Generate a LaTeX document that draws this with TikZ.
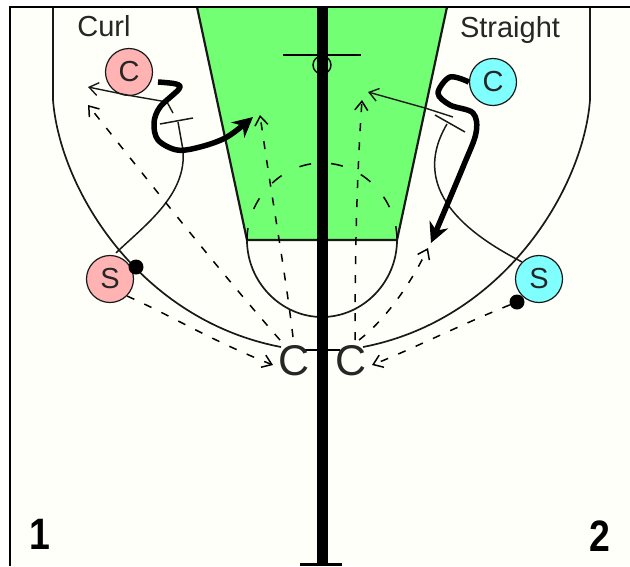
\documentclass[tikz,border=0pt]{standalone}
\usepackage{fontspec}
\setmainfont{Liberation Sans}
\usetikzlibrary{arrows.meta}
\definecolor{LanePaint}{HTML}{73FF73}
\definecolor{PinkPlayer}{HTML}{FFB3B3}
\definecolor{CyanPlayer}{HTML}{80FFFF}
\definecolor{CourtFloor}{HTML}{FFFFFA}

\begin{document}
\begin{tikzpicture}[
  x=1pt, y=-1pt,
  courtline/.style={line width=1.7pt, black!90},
  player/.style={circle, draw=black!90, line width=1.2pt, minimum size=47pt,
                 inner sep=0pt, font=\fontsize{29}{29}\selectfont, text=black!85},
  coach/.style={inner sep=0pt, font=\fontsize{43}{43}\selectfont, text=black!85},
  lbl/.style={inner sep=0pt, font=\fontsize{29}{29}\selectfont, text=black!85},
  num/.style={inner sep=0pt, xscale=0.85, font=\fontsize{44}{44}\selectfont\bfseries},
  ball/.style={circle, fill=black, minimum size=15pt, inner sep=0pt},
  cut/.style={-{Stealth[length=20pt,width=20pt]}, line width=5.5pt, line join=round},
  pass/.style={-{Straight Barb[length=9pt,width=13pt]}, line width=1.4pt, black!90},
  move/.style={-{Straight Barb[length=9pt,width=13pt]}, line width=1.5pt, dash pattern=on 8pt off 11pt},
  dribble/.style={line width=1.5pt, black!90}
]
\useasboundingbox (0,0) rectangle (630,566);
\fill[white] (0,0) rectangle (630,566);
\fill[CourtFloor] (10,7) rectangle (630,566);

% paint and key
\fill[LanePaint] (197,7) -- (247,240) -- (397,240) -- (447,7) -- cycle;
\draw[courtline, line width=2.2pt] (197,7) -- (247,240) -- (397,240) -- (447,7);
\draw[courtline] (247,240) .. controls (247,282) and (281,317) .. (322,317)
      .. controls (363,317) and (397,282) .. (397,240);
\draw[line width=1.5pt, dash pattern=on 12pt off 20pt] (247,240) .. controls (247,199) and (281,163) .. (322,163)
      .. controls (363,163) and (397,199) .. (397,240);

% three point line
\draw[courtline] (53,7) -- (53,100) .. controls (60,190) and (140,320) .. (281,347);
\draw[courtline] (590,7) -- (590,100) .. controls (583,190) and (503,320) .. (363,347);

% frame, rim, half court line
\draw[line width=2.4pt] (10,566) -- (10,7) -- (630,7);
\draw[line width=1.4pt] (322,65) circle[radius=9pt];
\draw[line width=11pt] (322,7) -- (322,566);
\draw[line width=3pt] (300,564) -- (342,564);
\draw[line width=2.2pt] (283,55) -- (361,55);
\draw[line width=1.7pt] (304,350) -- (340,350);

\node[player, fill=PinkPlayer] (c1) at (129,72)  {C};
\node[player, fill=PinkPlayer] (s1) at (110,279) {S};
\node[player, fill=CyanPlayer] (c2) at (493,82)  {C};
\node[player, fill=CyanPlayer] (s2) at (539,279) {S};
\node[ball] (b1) at (136,267) {};
\node[ball] (b2) at (517,302) {};

\node[coach] (k1) at (294,361) {C};
\node[coach] (k2) at (351,361) {C};

\node[lbl] (curl) at (104,26)  {Curl};
\node[lbl] (str)  at (510,30)  {Straight};
\node[num] (n1) at (40,534)  {1};
\node[num] (n2) at (600,536) {2};

\coordinate (p1) at (88,87);
\coordinate (p2) at (88,105);
\coordinate (p3) at (260,115);
\coordinate (p4) at (362,100);
\coordinate (p5) at (368,92);
\coordinate (p6) at (428,248);
\coordinate (p7) at (273,365);
\coordinate (p8) at (372,365);
\coordinate (t1) at (178,122);
\coordinate (t2) at (447,124);
\coordinate (e1) at (253,117);
\coordinate (e2) at (431,243);

% screens
\draw[dribble] (s1.north) ++(6,-2) .. controls (145,225) and (187,195) .. (183,150) -- (t1);
\draw[dribble] (160,124) -- (193,118);
\draw[dribble] (s2.north west) .. controls (480,240) and (405,195) .. (t2);
\draw[dribble] (435,115) -- (465,132);

% passes, solid
\draw[pass] (173,113) -- (167,102) -- (127,95) -- (p1);
\draw[pass] (453,117) -- (425,108) -- (p5);

% dashed moves out of the coaches
\draw[move] (k1) ++(-14,-21) .. controls (210,260) and (140,170) .. (p2);
\draw[move] (k1) ++(-1,-24) .. controls (285,270) and (272,200) .. (p3);
\draw[move] (k2) ++(4,-21) .. controls (355,270) and (356,190) .. (p4);
\draw[move] (k2) ++(8,-21) .. controls (385,320) and (410,285) .. (p6);
\draw[move] (s1.south east) .. controls (170,315) and (210,340) .. (p7);
\draw[move] (b2) .. controls (460,325) and (410,350) .. (p8);

% player cuts
\draw[cut] plot[smooth, tension=0.55] coordinates {(158,82) (176,84) (179,89) (160,107) (154,123) (158,140) (177,150) (200,147) (227,137) (e1)};
\draw[cut] plot[smooth, tension=0.55] coordinates {(c2.west) (450,77) (438,93) (450,105) (473,113) (476,133) (463,167) (e2)};
\end{tikzpicture}
\end{document}
